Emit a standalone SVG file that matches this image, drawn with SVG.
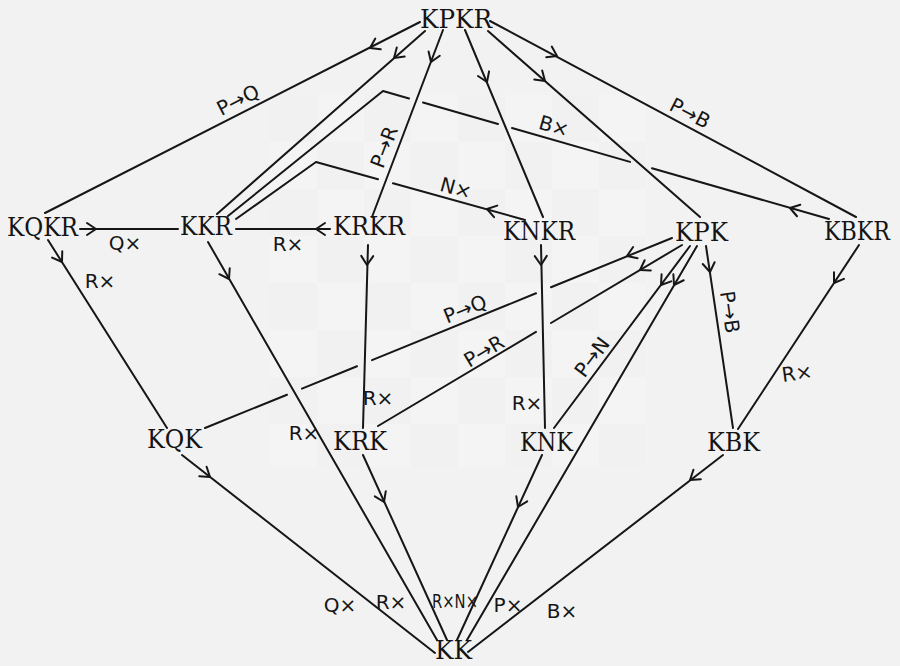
<svg xmlns="http://www.w3.org/2000/svg" width="900" height="666" viewBox="0 0 900 666">
<style>
  .node text { font-family: "DejaVu Serif", "Liberation Serif", serif; font-size: 26px; fill: #141414; text-anchor: middle; }
  .edge { fill: none; stroke: #161616; stroke-width: 2; stroke-linecap: round; stroke-linejoin: round; }
  .ah { fill: none; stroke: #161616; stroke-width: 2; stroke-linecap: round; stroke-linejoin: round; }
  .lbl { font-family: "DejaVu Sans", "Liberation Sans", sans-serif; font-size: 20px; fill: #161616; text-anchor: middle; }
</style>
<defs>
  <!-- open chevron arrowhead, pointing along +x with its tip at the origin -->
  <path id="ah" d="M-9,-6 L0,0 L-9,6"/>
  <pattern id="board" patternUnits="userSpaceOnUse" x="270" y="95" width="94" height="94">
    <rect width="94" height="94" fill="#f6f6f6"/>
    <rect width="47" height="47" fill="#efefef"/>
    <rect x="47" y="47" width="47" height="47" fill="#efefef"/>
  </pattern>
</defs>

<!-- page and faint chessboard backdrop -->
<rect width="900" height="666" fill="#f2f2f2"/>
<rect x="270" y="95" width="377" height="372" fill="url(#board)" opacity="0.45"/>

<g id="connectors">
  <!-- KPKR out-edges -->
  <path class="edge" d="M420,22 L45,213"/>
  <path class="edge" d="M425,31 L217,214"/>
  <path class="edge" d="M443,30 L372,217"/>
  <path class="edge" d="M465,30 L543,217"/>
  <path class="edge" d="M488,31 L700,217"/>
  <path class="edge" d="M490,21 L856,217"/>
  <!-- KBKR -> KKR (bent, broken where it passes under other lines) -->
  <path class="edge" d="M228,216 L383,91 L409,98.5 M423,102.5 L498,124 M512,128 L630,161.9 M652,168.2 L829,219"/>
  <!-- KNKR -> KKR (bent) -->
  <path class="edge" d="M236,219 L316,162 L378,179.2 M393,183.3 L525,220"/>
  <!-- middle row -->
  <path class="edge" d="M80,229 L178,229"/>
  <path class="edge" d="M236,229 L330,229"/>
  <path class="edge" d="M48,240 L167,428"/>
  <path class="edge" d="M208,242 L437,640"/>
  <path class="edge" d="M368,245 L363,428"/>
  <path class="edge" d="M541,245 L545,428"/>
  <!-- KPK out-edges -->
  <path class="edge" d="M672,238 L551,287.2 M536,293.3 L372,360.1 M357,366.2 L302,388.6 M287,394.7 L205,428"/>
  <path class="edge" d="M682,245 L551,323 M536,331.9 L378,426"/>
  <path class="edge" d="M690,246 L554,428"/>
  <path class="edge" d="M697,246 L467,640"/>
  <path class="edge" d="M706,246 L733,428"/>
  <path class="edge" d="M859,245 L738,429"/>
  <!-- into KK -->
  <path class="edge" d="M182,455 L435,653"/>
  <path class="edge" d="M363,455 L447,640"/>
  <path class="edge" d="M542,455 L457,640"/>
  <path class="edge" d="M723,455 L468,652"/>

  <!-- arrowheads -->
  <use href="#ah" class="ah" transform="translate(370,48) rotate(153)"/>
  <use href="#ah" class="ah" transform="translate(394,58) rotate(138.7)"/>
  <use href="#ah" class="ah" transform="translate(790,208) rotate(196)"/>
  <use href="#ah" class="ah" transform="translate(487,209) rotate(195.5)"/>
  <use href="#ah" class="ah" transform="translate(431,62) rotate(110.8)"/>
  <use href="#ah" class="ah" transform="translate(487,82) rotate(67.4)"/>
  <use href="#ah" class="ah" transform="translate(545,81) rotate(41.2)"/>
  <use href="#ah" class="ah" transform="translate(557,56) rotate(27.4)"/>
  <use href="#ah" class="ah" transform="translate(96,229) rotate(0)"/>
  <use href="#ah" class="ah" transform="translate(316,229) rotate(180)"/>
  <use href="#ah" class="ah" transform="translate(62,262) rotate(57.7)"/>
  <use href="#ah" class="ah" transform="translate(229,279) rotate(60.1)"/>
  <use href="#ah" class="ah" transform="translate(367,265) rotate(91.5)"/>
  <use href="#ah" class="ah" transform="translate(541,265) rotate(88.7)"/>
  <use href="#ah" class="ah" transform="translate(627,256) rotate(157.9)"/>
  <use href="#ah" class="ah" transform="translate(640,270) rotate(149.2)"/>
  <use href="#ah" class="ah" transform="translate(661,285) rotate(126.8)"/>
  <use href="#ah" class="ah" transform="translate(674,285) rotate(120.3)"/>
  <use href="#ah" class="ah" transform="translate(710,272) rotate(81.6)"/>
  <use href="#ah" class="ah" transform="translate(834,283) rotate(123.7)"/>
  <use href="#ah" class="ah" transform="translate(210,477) rotate(38)"/>
  <use href="#ah" class="ah" transform="translate(384,502) rotate(65.6)"/>
  <use href="#ah" class="ah" transform="translate(518,507) rotate(114.7)"/>
  <use href="#ah" class="ah" transform="translate(690,480) rotate(142.2)"/>

  <!-- move labels -->
  <text class="lbl" transform="translate(238,100) rotate(-27)" y="7">P→Q</text>
  <text class="lbl" transform="translate(690,113) rotate(27.4)" y="7">P→B</text>
  <text class="lbl" transform="translate(554,126) rotate(16)" y="7">B×</text>
  <text class="lbl" transform="translate(384,147) rotate(-69)" y="7">P→R</text>
  <text class="lbl" transform="translate(456,188) rotate(15.5)" y="7">N×</text>
  <text class="lbl" x="125" y="250">Q×</text>
  <text class="lbl" x="288" y="251">R×</text>
  <text class="lbl" x="100" y="288">R×</text>
  <text class="lbl" transform="translate(465,309) rotate(-22)" y="7">P→Q</text>
  <text class="lbl" transform="translate(484,351) rotate(-31)" y="7">P→R</text>
  <text class="lbl" transform="translate(592,357) rotate(-53)" y="7">P→N</text>
  <text class="lbl" transform="translate(730,312) rotate(82)" y="7">P→B</text>
  <text class="lbl" x="378" y="405">R×</text>
  <text class="lbl" x="304" y="440">R×</text>
  <text class="lbl" x="527" y="410">R×</text>
  <text class="lbl" transform="translate(797,373) rotate(-8)" y="7">R×</text>
  <text class="lbl" x="340" y="612">Q×</text>
  <text class="lbl" x="391" y="609">R×</text>
  <text class="lbl" x="455" y="608" textLength="46" lengthAdjust="spacingAndGlyphs">R×N×</text>
  <text class="lbl" x="508" y="612">P×</text>
  <text class="lbl" x="562" y="618">B×</text>
</g>

<g id="KPKR" class="node"><text x="456" y="28" textLength="72" lengthAdjust="spacingAndGlyphs">KPKR</text></g>
<g id="KQKR" class="node"><text x="42.5" y="236" textLength="71" lengthAdjust="spacingAndGlyphs">KQKR</text></g>
<g id="KKR" class="node"><text x="206" y="235" textLength="52" lengthAdjust="spacingAndGlyphs">KKR</text></g>
<g id="KRKR" class="node"><text x="369" y="235" textLength="72" lengthAdjust="spacingAndGlyphs">KRKR</text></g>
<g id="KNKR" class="node"><text x="539" y="240" textLength="72" lengthAdjust="spacingAndGlyphs">KNKR</text></g>
<g id="KPK" class="node"><text x="701.5" y="241" textLength="53" lengthAdjust="spacingAndGlyphs">KPK</text></g>
<g id="KBKR" class="node"><text x="857" y="240" font-size="25" textLength="66" lengthAdjust="spacingAndGlyphs">KBKR</text></g>
<g id="KQK" class="node"><text x="174.5" y="448" textLength="55" lengthAdjust="spacingAndGlyphs">KQK</text></g>
<g id="KRK" class="node"><text x="360" y="450" textLength="54" lengthAdjust="spacingAndGlyphs">KRK</text></g>
<g id="KNK" class="node"><text x="546.5" y="451" textLength="53" lengthAdjust="spacingAndGlyphs">KNK</text></g>
<g id="KBK" class="node"><text x="733.5" y="451" textLength="53" lengthAdjust="spacingAndGlyphs">KBK</text></g>
<g id="KK" class="node"><text x="453.5" y="659" textLength="37" lengthAdjust="spacingAndGlyphs">KK</text></g>
</svg>
